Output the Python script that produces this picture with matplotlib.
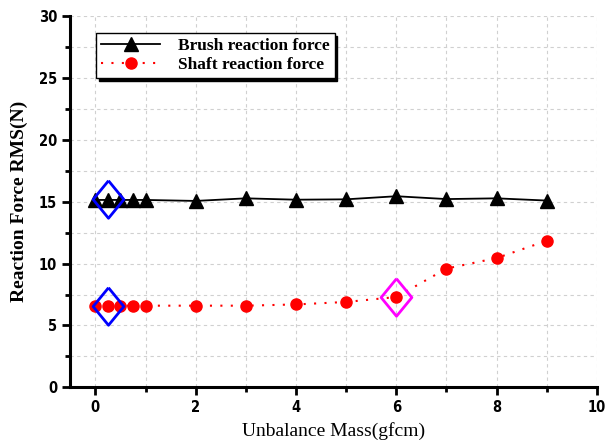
import matplotlib
matplotlib.use("Agg")
import matplotlib.pyplot as plt
from matplotlib.ticker import MultipleLocator

mass = [0, 0.25, 0.5, 0.75, 1, 2, 3, 4, 5, 6, 7, 8, 9]
brush = [15.15, 15.15, 15.15, 15.15, 15.15, 15.07, 15.28, 15.17, 15.2, 15.45, 15.22, 15.28, 15.1]
shaft = [6.6, 6.6, 6.6, 6.6, 6.6, 6.6, 6.6, 6.7, 6.9, 7.3, 9.6, 10.45, 11.85]
blue_marks_x = [0.25, 0.25]
blue_marks_y = [15.2, 6.6]
pink_mark_x = [6]
pink_mark_y = [7.3]

fig = plt.figure(figsize=(6.11, 4.44), dpi=100)
ax = fig.add_axes([0.115, 0.1277, 0.862, 0.8356])

ax.plot(mass, brush, color="black", lw=1.3, marker="^", markersize=10,
        label="Brush reaction force", zorder=3)
ax.plot(mass, shaft, color="red", lw=1.5, ls=(0, (1, 4)), marker="o", markersize=8,
        markeredgecolor="red", label="Shaft reaction force", zorder=3)

diamond = [(0, 1), (0.82, 0), (0, -1), (-0.82, 0), (0, 1)]
ax.plot(blue_marks_x, blue_marks_y, ls="none", marker=diamond, markersize=27,
        markerfacecolor="none", markeredgecolor="blue", markeredgewidth=2, zorder=4)
ax.plot(pink_mark_x, pink_mark_y, ls="none", marker=diamond, markersize=27,
        markerfacecolor="none", markeredgecolor="magenta", markeredgewidth=2, zorder=4)

ax.set_xlim(-0.5, 10)
ax.set_ylim(0, 30)
ax.xaxis.set_major_locator(MultipleLocator(2))
ax.xaxis.set_minor_locator(MultipleLocator(1))
ax.yaxis.set_major_locator(MultipleLocator(5))
ax.yaxis.set_minor_locator(MultipleLocator(2.5))

ax.grid(True, which="both", color="#d0d0d0", ls=(0, (3, 3)), lw=0.8, zorder=0)
ax.set_axisbelow(True)

for s in ["top", "right"]:
    ax.spines[s].set_visible(False)
for s in ["left", "bottom"]:
    ax.spines[s].set_linewidth(2.2)

ax.tick_params(which="major", direction="out", length=6, width=2)
ax.tick_params(which="minor", direction="out", length=3.5, width=2)
for lab in ax.get_xticklabels() + ax.get_yticklabels():
    lab.set_fontfamily("DejaVu Sans")
    lab.set_fontstretch("condensed")
    lab.set_fontweight("bold")
    lab.set_fontsize(10.5)

ax.set_xlabel("Unbalance Mass(gfcm)", family=["Liberation Serif", "DejaVu Serif"],
              fontsize=14, labelpad=5)
ax.set_ylabel("Reaction Force RMS(N)", family=["Liberation Serif", "DejaVu Serif"],
              fontsize=14, fontweight="bold", labelpad=8)

leg = ax.legend(loc="upper left", bbox_to_anchor=(0.049, 0.955), frameon=True,
                fancybox=False, shadow={"color": "black", "alpha": 1},
                prop=dict(family=["Liberation Serif", "DejaVu Serif"], weight="bold", size=12.5),
                borderpad=0.3, labelspacing=0.15, handlelength=3.4, handletextpad=1.0,
                borderaxespad=0)
leg.get_frame().set_edgecolor("black")
leg.get_frame().set_linewidth(1)

fig.savefig("out.png", dpi=100)
